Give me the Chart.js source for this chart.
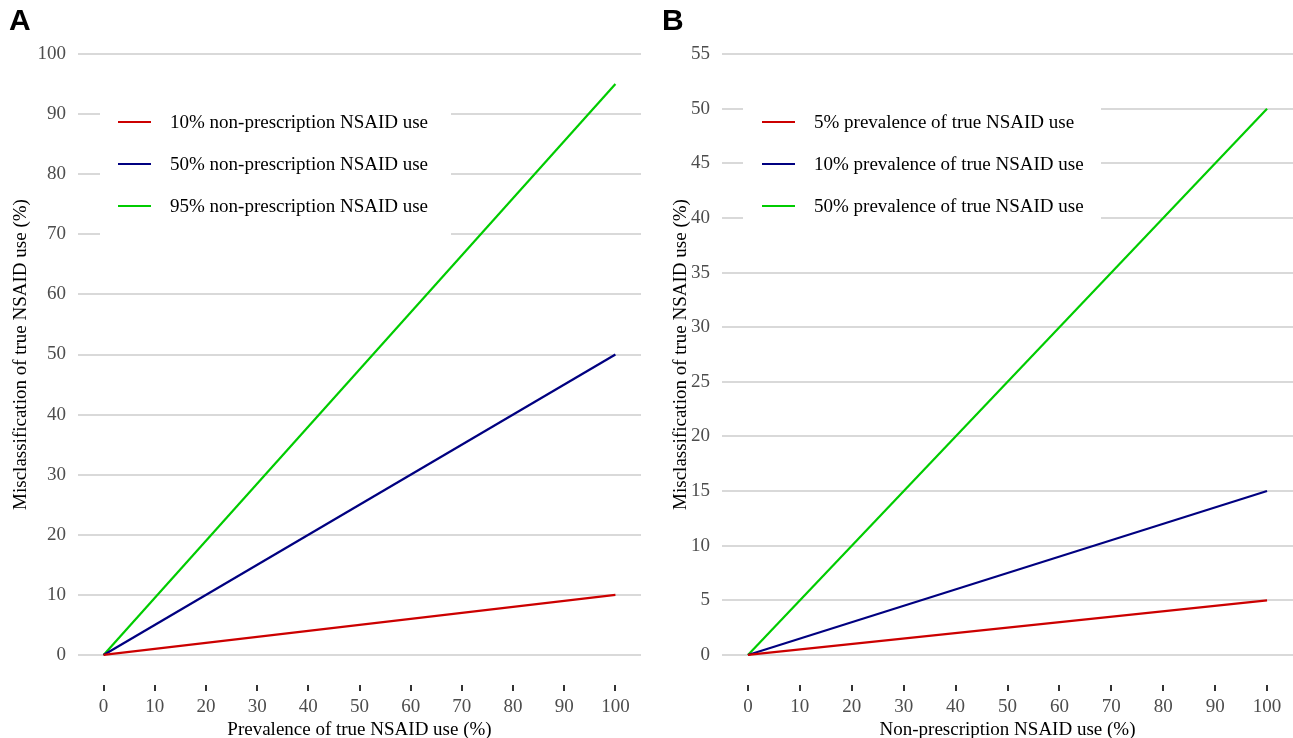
<!DOCTYPE html>
<html>
<head>
<meta charset="utf-8">
<script src="https://cdn.jsdelivr.net/npm/chart.js"></script>
<style>
  html, body { margin: 0; padding: 0; background: #fff; }
  #wrap { position: relative; width: 1293px; height: 738px; overflow: hidden; }
  .panel { position: absolute; top: 0; width: 646px; height: 738px; }
  .tag { position: absolute; top: 3px; font: bold 30px "Liberation Sans", Arial, sans-serif; color: #000; }
</style>
</head>
<body>
<div id="wrap">
  <div class="panel" style="left:0"><canvas id="chartA" width="646" height="738"></canvas></div>
  <div class="panel" style="left:647px"><canvas id="chartB" width="646" height="738"></canvas></div>
  <div class="tag" style="left:9px">A</div>
  <div class="tag" style="left:662px">B</div>
</div>
<script>
// data
var xPoints = [0, 100];
var xTicks = [0, 10, 20, 30, 40, 50, 60, 70, 80, 90, 100];

var labelsA = ['10% non-prescription NSAID use', '50% non-prescription NSAID use', '95% non-prescription NSAID use'];
var redA = [0, 10];
var blueA = [0, 50];
var greenA = [0, 95];
var yTicksA = [0, 10, 20, 30, 40, 50, 60, 70, 80, 90, 100];

var labelsB = ['5% prevalence of true NSAID use', '10% prevalence of true NSAID use', '50% prevalence of true NSAID use'];
var redB = [0, 5];
var blueB = [0, 15];
var greenB = [0, 50];
var yTicksB = [0, 5, 10, 15, 20, 25, 30, 35, 40, 45, 50, 55];

var colors = ['#cc0000', '#000080', '#00cc00'];
var serif = '"Liberation Serif", "Times New Roman", serif';

function toPoints(ys) {
    return xPoints.map(function(x, i) { return { x: x, y: ys[i] }; });
}

// legend drawn inside the plot, on a white box over the grid
var insideLegend = {
    id: 'insideLegend',
    beforeDatasetsDraw: function(chart, args, opts) {
        var ctx = chart.ctx;
        ctx.save();
        ctx.fillStyle = '#fff';
        ctx.fillRect(opts.box[0], opts.box[1], opts.box[2], opts.box[3]);
        ctx.font = '19px ' + serif;
        ctx.textBaseline = 'middle';
        chart.data.datasets.forEach(function(ds, i) {
            var y = opts.y0 + i * opts.step;
            ctx.strokeStyle = ds.borderColor;
            ctx.lineWidth = 2.2;
            ctx.beginPath();
            ctx.moveTo(opts.lineX, y);
            ctx.lineTo(opts.lineX + 33, y);
            ctx.stroke();
            ctx.fillStyle = '#000';
            ctx.fillText(ds.label, opts.textX, y + 1);
        });
        ctx.restore();
    }
};

function makeChart(id, labels, series, yTicks, yMin, yMax, xTitle, yTitlePad, yWidth, padRight, legendOpts) {
    new Chart(document.getElementById(id), {
        type: 'line',
        data: {
            datasets: series.map(function(s, i) {
                return {
                    label: labels[i],
                    data: toPoints(s),
                    borderColor: colors[i],
                    backgroundColor: colors[i],
                    borderWidth: 2.2,
                    pointRadius: 0,
                    tension: 0
                };
            })
        },
        options: {
            responsive: false,
            animation: false,
            layout: { padding: { top: 24, right: padRight, left: 0, bottom: 0 } },
            plugins: {
                legend: { display: false },
                tooltip: { enabled: false },
                insideLegend: legendOpts
            },
            scales: {
                x: {
                    type: 'linear',
                    min: -5,
                    max: 105,
                    afterBuildTicks: function(scale) {
                        scale.ticks = xTicks.map(function(v) { return { value: v }; });
                    },
                    afterFit: function(scale) { scale.height = 53; },
                    grid: { drawOnChartArea: false, drawTicks: true, tickLength: 6, color: '#333', lineWidth: 2 },
                    border: { display: false },
                    ticks: { color: '#4d4d4d', padding: 7, maxRotation: 0, font: { family: serif, size: 19, lineHeight: 1 } },
                    title: { display: true, text: xTitle, color: '#000', padding: { top: 0, bottom: -2 }, font: { family: serif, size: 19, lineHeight: 1 } }
                },
                y: {
                    type: 'linear',
                    min: yMin,
                    max: yMax,
                    afterBuildTicks: function(scale) {
                        scale.ticks = yTicks.map(function(v) { return { value: v }; });
                    },
                    afterFit: function(scale) { scale.width = yWidth; },
                    grid: { drawTicks: false, color: '#d9d9d9', lineWidth: 2 },
                    border: { display: false },
                    ticks: { color: '#4d4d4d', padding: 12, font: { family: serif, size: 19, lineHeight: 1 } },
                    title: { display: true, text: 'Misclassification of true NSAID use (%)', color: '#000', padding: { top: yTitlePad, bottom: 0 }, font: { family: serif, size: 19, lineHeight: 1 } }
                }
            }
        },
        plugins: [insideLegend]
    });
}

makeChart('chartA', labelsA, [redA, blueA, greenA], yTicksA, -5, 105,
    'Prevalence of true NSAID use (%)', 11.5, 78, 5,
    { box: [100, 99, 351, 140], lineX: 118, textX: 170, y0: 122, step: 42 });

makeChart('chartB', labelsB, [redB, blueB, greenB], yTicksB, -2.75, 57.75,
    'Non-prescription NSAID use (%)', 24.5, 75, 0,
    { box: [96, 96, 358, 136], lineX: 115, textX: 167, y0: 122, step: 42 });
</script>
</body>
</html>
